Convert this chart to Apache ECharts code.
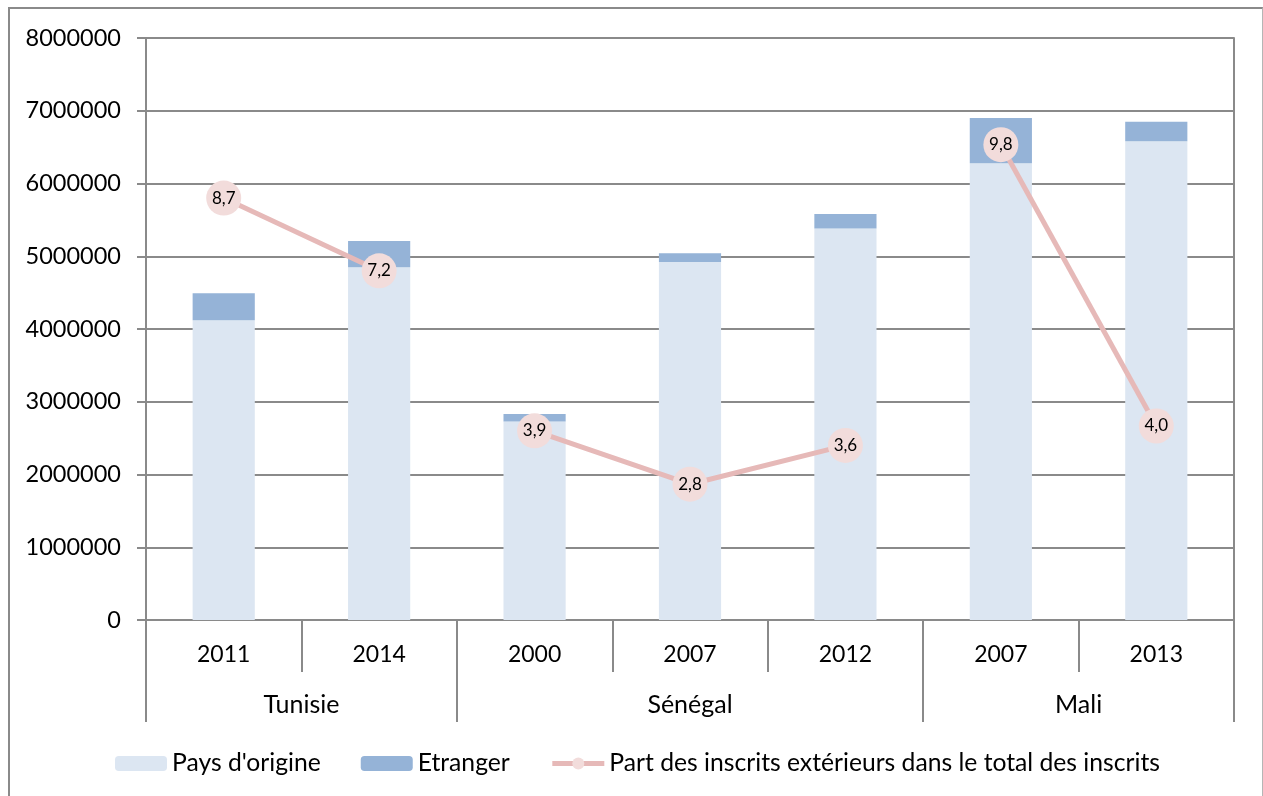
<!DOCTYPE html>
<html>
<head>
<meta charset="utf-8">
<script src="https://cdn.jsdelivr.net/npm/echarts@6/dist/echarts.min.js"></script>
<style>
html,body{margin:0;padding:0;background:#fff;}
#wrap{position:relative;width:1263px;height:796px;overflow:hidden;}
#chart{position:absolute;left:0;top:0;width:1263px;height:796px;}
#frame{position:absolute;left:8px;top:7px;width:1252px;height:820px;border-left:2px solid #8a8a8a;border-top:2px solid #8a8a8a;border-right:1px solid #b5b5b5;pointer-events:none;}
</style>
</head>
<body>
<div id="wrap"><div id="chart"></div><div id="frame"></div></div>
<script>
// ---- data ----
const years = ['2011', '2014', '2000', '2007', '2012', '2007', '2013'];
const groups = ['Tunisie', 'Sénégal', 'Mali'];
const groupSizes = [2, 3, 2];
const paysOrigine = [4120000, 4850000, 2730000, 4920000, 5380000, 6280000, 6580000];
const etranger = [370000, 360000, 100000, 120000, 200000, 620000, 270000];
const partExterieurs = [8.7, 7.2, 3.9, 2.8, 3.6, 9.8, 4.0];
const yTicks = [0, 1000000, 2000000, 3000000, 4000000, 5000000, 6000000, 7000000, 8000000];
const seriesNames = ["Pays d'origine", 'Etranger', 'Part des inscrits extérieurs dans le total des inscrits'];

// ---- build group axis (half-category slots) ----
const slots = new Array(years.length * 2 + 1).fill('');
const boundaries = new Set([0]);
let pos = 0;
groups.forEach((g, i) => {
  slots[pos + groupSizes[i]] = g;
  pos += groupSizes[i] * 2;
  boundaries.add(pos);
});

const lineColor = '#E6B9B8';
const markerColor = '#F2DCDB';

// line split per group
const lineSeries = [];
let start = 0;
groups.forEach((g, i) => {
  const d = partExterieurs.map((v, k) => (k >= start && k < start + groupSizes[i]) ? v : null);
  start += groupSizes[i];
  lineSeries.push({
    name: seriesNames[2],
    type: 'line',
    yAxisIndex: 1,
    xAxisIndex: 0,
    data: d,
    connectNulls: false,
    symbol: 'circle',
    symbolSize: 35,
    z: 5,
    lineStyle: { color: lineColor, width: 5 },
    itemStyle: { color: markerColor, borderColor: markerColor, borderWidth: 0 },
    label: {
      show: true, position: 'inside', color: '#000', fontFamily: 'Lato', fontSize: 17,
      formatter: p => p.value == null ? '' : p.value.toFixed(1).replace('.', ',')
    },
    emphasis: { disabled: true },
    animation: false
  });
});

const gray = '#8a8a8a';
const font = 'Lato';
const chart = echarts.init(document.getElementById('chart'), null, { renderer: 'canvas' });
chart.setOption({
  animation: false,
  backgroundColor: '#fff',
  grid: { left: 146, right: 29, top: 38, bottom: 176, containLabel: false },
  legend: {
    left: 110, top: 746,
    itemWidth: 52, itemHeight: 15, itemGap: 40,
    textStyle: { fontFamily: font, fontSize: 24.7, color: '#000' },
    data: [
      { name: seriesNames[0] },
      { name: seriesNames[1] },
      { name: seriesNames[2], lineStyle: { width: 5, color: lineColor }, itemStyle: { color: markerColor } }
    ]
  },
  xAxis: [
    {
      type: 'category', data: years, position: 'bottom',
      axisLine: { show: true, lineStyle: { color: gray, width: 2 } },
      axisTick: { show: true, interval: 0, length: 52, lineStyle: { color: gray, width: 2 } },
      axisLabel: { interval: 0, margin: 23, fontFamily: font, fontSize: 23, color: '#000' },
      splitLine: { show: false }, z: 3
    },
    {
      type: 'category', data: slots, position: 'bottom', boundaryGap: false, offset: 0,
      axisLine: { show: false },
      axisTick: { show: true, length: 102, interval: (i) => boundaries.has(i), lineStyle: { color: gray, width: 2 } },
      axisLabel: { interval: 0, margin: 72, fontFamily: font, fontSize: 25, color: '#000' },
      splitLine: { show: false }
    }
  ],
  yAxis: [
    {
      type: 'value', min: yTicks[0], max: yTicks[yTicks.length - 1], interval: yTicks[1] - yTicks[0],
      axisLine: { show: true, lineStyle: { color: gray, width: 2 } },
      axisTick: { show: true, length: 9, lineStyle: { color: gray, width: 2 } },
      axisLabel: { margin: 25, fontFamily: font, fontSize: 23.5, color: '#000', formatter: v => String(v) },
      splitLine: { show: true, lineStyle: { color: gray, width: 2 } }
    },
    {
      type: 'value', min: 0, max: 12, position: 'right',
      axisLine: { show: true, lineStyle: { color: gray, width: 2 } },
      axisTick: { show: false }, axisLabel: { show: false }, splitLine: { show: false }
    }
  ],
  series: [
    {
      name: seriesNames[0], type: 'bar', stack: 'total', data: paysOrigine, barWidth: '40%',
      itemStyle: { color: '#DCE6F2' }, z: 4
    },
    {
      name: seriesNames[1], type: 'bar', stack: 'total', data: etranger, barWidth: '40%',
      itemStyle: { color: '#95B3D7' }, z: 4
    }
  ].concat(lineSeries)
});
</script>
</body>
</html>
